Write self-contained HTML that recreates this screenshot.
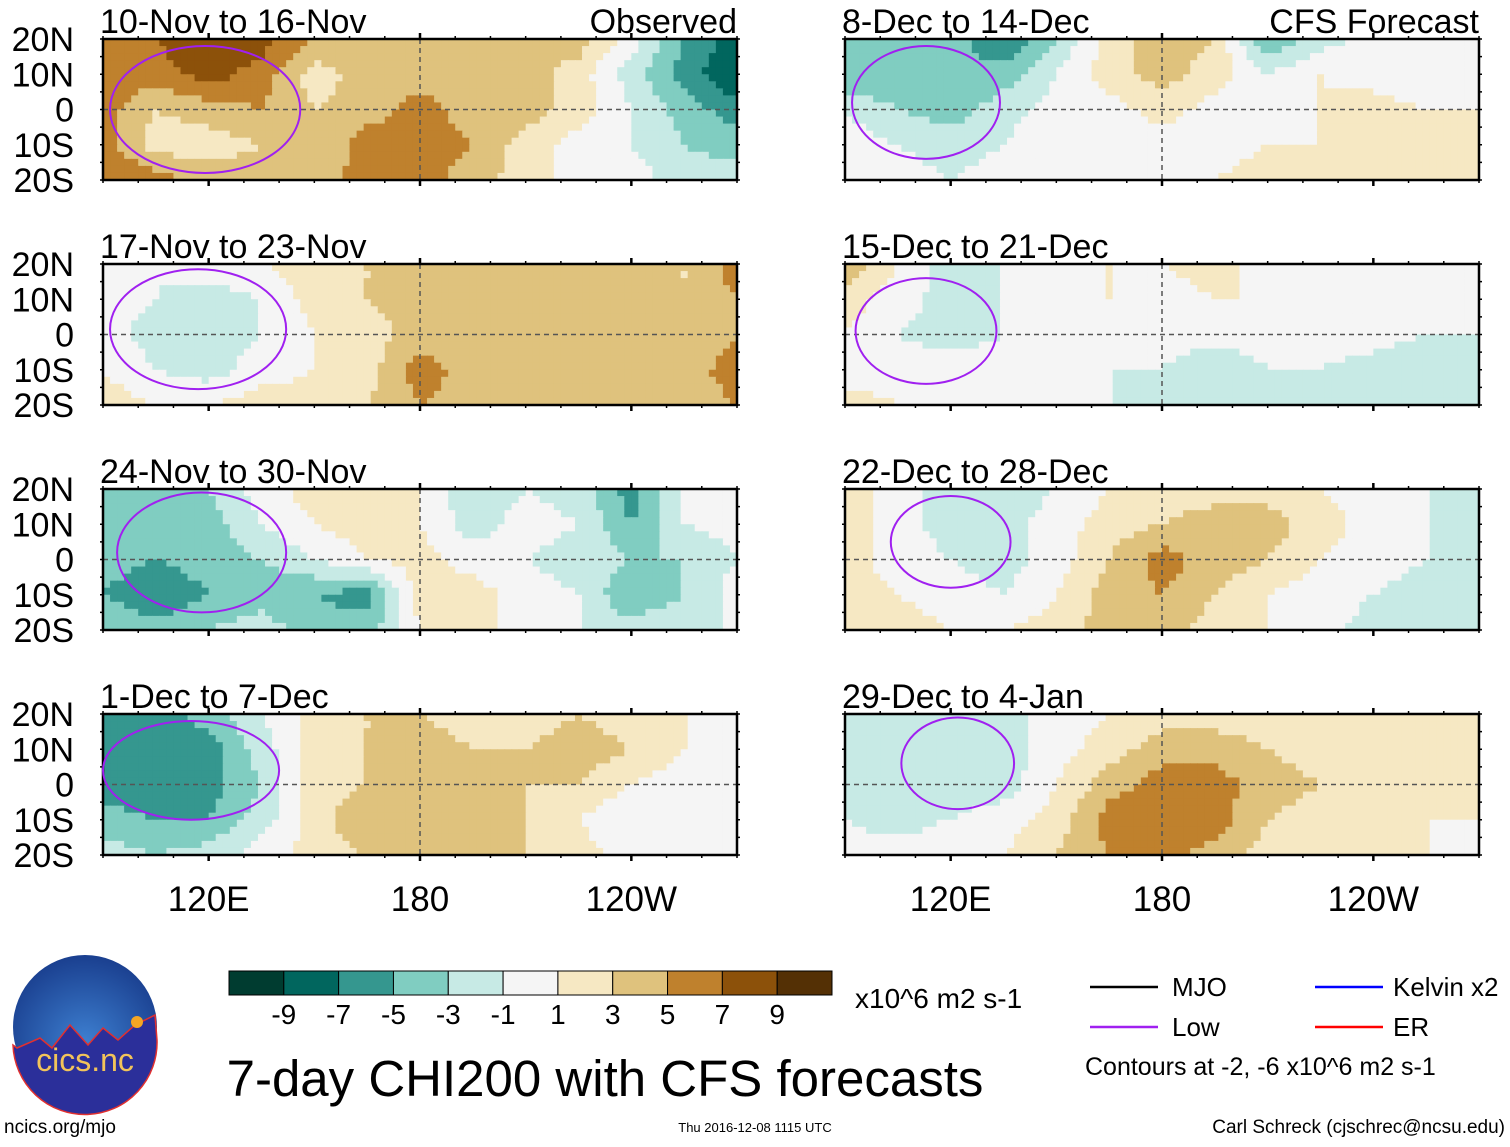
<!DOCTYPE html>
<html><head><meta charset="utf-8">
<style>
html,body{margin:0;padding:0;background:#fff;}
body{width:1510px;height:1142px;overflow:hidden;font-family:"Liberation Sans",sans-serif;}
svg text{font-family:"Liberation Sans",sans-serif;}
</style></head>
<body>
<svg id="chart" width="1510" height="1142" viewBox="0 0 1510 1142" xmlns="http://www.w3.org/2000/svg">
<g id="panels"></g>
<g id="legend">
  <g id="colorbar"></g>
  <text x="855" y="1008" font-size="28">x10^6 m2 s-1</text>
  <line x1="1090" y1="987" x2="1158" y2="987" stroke="#000" stroke-width="2.5"/>
  <text x="1172" y="996" font-size="26">MJO</text>
  <line x1="1090" y1="1027" x2="1158" y2="1027" stroke="#a020f0" stroke-width="2.5"/>
  <text x="1172" y="1036" font-size="26">Low</text>
  <line x1="1315" y1="987" x2="1383" y2="987" stroke="#0000ff" stroke-width="2.5"/>
  <text x="1393" y="996" font-size="26">Kelvin x2</text>
  <line x1="1315" y1="1027" x2="1383" y2="1027" stroke="#ff0000" stroke-width="2.5"/>
  <text x="1393" y="1036" font-size="26">ER</text>
  <text x="1085" y="1075" font-size="25">Contours at -2, -6 x10^6 m2 s-1</text>
</g>
<text x="605" y="1096" font-size="51" text-anchor="middle">7-day CHI200 with CFS forecasts</text>
<g>
  <defs><radialGradient id="lg" cx="0.5" cy="0.6" r="0.6"><stop offset="0" stop-color="#3d7fd0"/><stop offset="1" stop-color="#1a3f8f"/></radialGradient></defs>
  <circle cx="85" cy="1027" r="72" fill="url(#lg)"/>
  <path d="M17,1048 L40,1038 L52,1048 L70,1025 L88,1045 L103,1028 L118,1040 L135,1025 L155,1015 L157,1040 A72,72 0 0 1 13,1045 Z" fill="#2b2f9a" stroke="#e03030" stroke-width="1.5"/>
  <circle cx="137" cy="1022" r="6" fill="#f5a623"/>
  <text x="85" y="1071" font-size="32" fill="#f2c45a" text-anchor="middle">cics.nc</text>
</g>
<text x="4" y="1133" font-size="19">ncics.org/mjo</text>
<text x="755" y="1132" font-size="13" text-anchor="middle">Thu 2016-12-08 1115 UTC</text>
<text x="1505" y="1133" font-size="19" text-anchor="end">Carl Schreck (cjschrec@ncsu.edu)</text>
</svg>
<script>
// longitudes 90E..270E step 15, latitudes rows 20N,10N,0,10S,20S
const lons = [90,105,120,135,150,165,180,195,210,225,240,255,270];
const lats = [20,10,0,-10,-20];
const levels = [-9,-7,-5,-3,-1,1,3,5,7,9];
const levelColors = ["#003c30","#01665e","#35978f","#80cdc1","#c7eae5","#f5f5f5","#f6e8c3","#dfc27d","#bf812d","#8c510a","#543005"];
const panelTitles = ["10-Nov to 16-Nov","8-Dec to 14-Dec","17-Nov to 23-Nov","15-Dec to 21-Dec","24-Nov to 30-Nov","22-Dec to 28-Dec","1-Dec to 7-Dec","29-Dec to 4-Jan"];
const latTicks = ["20N","10N","0","10S","20S"];
const lonTickLabels = ["120E","180","120W"];
const lonTickValues = [120,180,240];

const p1 = [[6,7,9,8,5,3,4,4,4,4,0,-5,-8],[6,6,8,6,2,4,4,4,4,2,-2,-6,-9],[6,3,4,5,3,4,6,4,4,2,-1,-4,-6],[6,2,2,3,3,6,6,5,2,0,-1,-3,-4],[7,6,4,4,4,6,6,4,2,0,0,-2,-2]];
const p2 = [[-4,-5,-4,-7,-3,2,4,3,-5,-2,0,0,-1],[-5,-5,-5,-4,-1,2,4,2,-1,1,0,-1,-1],[-1,-3,-4,-2,0,0,2,0,0,1,2,1,1],[0,-1,-2,-1,1,0,0,0,1,1,2,1,2],[1,0,-1,0,1,0,1,1,2,2,2,2,3]];
const p3 = [[1,-1,0,1,2,3,3,4,4,4,4,3,6],[0,-1,-2,-1,2,3,4,4,5,4,3,3,5],[0,-2,-2,-1,1,2,4,4,3,4,3,3,5],[1,-1,-2,0,1,2,6,4,3,4,3,4,6],[2,1,1,2,2,3,5,4,4,4,4,4,5]];
const p4 = [[5,1,-2,-1,0,1,1,2,0,0,1,0,0],[2,0,-2,-1,0,1,0,1,1,0,0,0,0],[1,-1,-2,-1,0,0,0,0,0,0,0,-1,-1],[0,0,0,0,0,-1,-1,-3,-1,-1,-2,-3,-3],[2,1,1,1,0,-1,-2,-2,-1,-2,-3,-3,-3]];
const p5 = [[-3,-3,-3,0,2,3,1,-3,-1,-2,-6,-1,0],[-4,-5,-4,-1,1,2,1,-2,0,-1,-5,-1,0],[-4,-5,-4,-3,-1,1,2,0,-1,-2,-3,-3,-1],[-5,-7,-5,-4,-5,-6,2,2,0,-1,-5,-3,0],[-3,-4,-3,-2,-4,-4,1,2,0,-1,-2,-1,-1]];
const p6 = [[2,0,-2,-2,-1,1,2,2,2,1,0,-1,-1],[2,0,-2,-2,0,2,3,4,4,2,0,-1,-2],[2,0,-1,-2,0,3,6,4,3,1,0,-1,-2],[2,1,0,-1,1,4,5,3,1,0,-1,-2,-2],[2,2,1,1,2,4,4,2,1,0,-2,-2,-2]];
const p7 = [[-6,-6,-4,-1,2,3,3,2,2,3,2,1,0],[-7,-7,-6,-2,2,3,4,3,3,4,3,1,0],[-6,-7,-6,-3,2,3,4,4,3,3,1,0,0],[-4,-5,-5,-2,2,5,5,4,3,1,-1,0,0],[-2,-3,-2,0,2,3,4,4,3,2,0,0,1]];
const p8 = [[-1,-2,-2,-2,0,1,2,2,2,1,1,1,1],[-2,-2,-2,-2,0,2,4,4,3,2,2,1,1],[-1,-2,-2,-2,1,4,6,6,4,3,2,2,1],[-1,-2,-1,0,2,6,7,6,3,2,2,1,1],[0,0,1,1,3,5,6,4,2,2,1,1,0]];
const panelData = [p1,p2,p3,p4,p5,p6,p7,p8];

// Low contour loops: panel, centre lon, centre lat, half-width (deg lon), half-height (deg lat)
const lowPanel = [0,1,2,3,4,5,6,7];
const lowLon = [119,113,117,113,118,120,115,122];
const lowLat = [0,2,1.5,1,2,5,4,6];
const lowRx = [27,21,25,20,24,17,25,16];
const lowRy = [18,16,17,15,17,13,14,13];

const NS="http://www.w3.org/2000/svg";
function mk(tag, attrs, parent){const e=document.createElementNS(NS,tag);for(const k in attrs)e.setAttribute(k,attrs[k]);parent.appendChild(e);return e;}
function colorFor(v){let i=0;while(i<levels.length&&v>=levels[i])i++;return levelColors[i];}
function interp(d,lon,lat){
  const fx=(lon-lons[0])/15, fy=(lats[0]-lat)/10;
  const x0=Math.min(Math.floor(fx),lons.length-2), y0=Math.min(Math.floor(fy),lats.length-2);
  const tx=fx-x0, ty=fy-y0;
  const a=d[y0][x0],b=d[y0][x0+1],c=d[y0+1][x0],e=d[y0+1][x0+1];
  return (a*(1-tx)+b*tx)*(1-ty)+(c*(1-tx)+e*tx)*ty;
}
const W=634,H=141;
const panelsG=document.getElementById('panels');
const panelX=[103,845], panelY=[39,264,489,714];
const xsP=(pi,lon)=>panelX[pi%2]+(lon-90)/180*W;
const ysP=(pi,lat)=>panelY[Math.floor(pi/2)]+(20-lat)/40*H;
panelData.forEach((d,pi)=>{
  const X0=panelX[pi%2], Y0=panelY[Math.floor(pi/2)];
  const xs=lon=>xsP(pi,lon);
  const ys=lat=>ysP(pi,lat);
  const g=mk('g',{},panelsG);
  
  
  const step=2;
  for(let lat=20;lat>-20;lat-=step){
    for(let lon=90;lon<270;lon+=step){
      const v=interp(d,lon+step/2,lat-step/2);
      const r=mk('rect',{x:xs(lon).toFixed(2),y:ys(lat).toFixed(2),width:(W*step/180+0.6).toFixed(2),height:(H*step/40+0.6).toFixed(2),fill:colorFor(v)},g);
      
      
    }
  }
  mk('line',{x1:X0,y1:ys(0),x2:X0+W,y2:ys(0),stroke:'#555','stroke-width':1.5,'stroke-dasharray':'5,4'},g);
  mk('line',{x1:xs(180),y1:Y0,x2:xs(180),y2:Y0+H,stroke:'#555','stroke-width':1.5,'stroke-dasharray':'5,4'},g);
  const f=mk('rect',{x:X0,y:Y0,width:W,height:H,fill:'none',stroke:'#000','stroke-width':2.5},g);
  
  
  for(let lon=90;lon<=270;lon+=10){
    const major=lonTickValues.includes(lon);
    mk('line',{x1:xs(lon),y1:Y0,x2:xs(lon),y2:Y0-(major?6:3),stroke:'#000','stroke-width':major?2.5:1.5},g);
    mk('line',{x1:xs(lon),y1:Y0+H,x2:xs(lon),y2:Y0+H+(major?6:3),stroke:'#000','stroke-width':major?2.5:1.5},g);
  }
  for(let lat=-20;lat<=20;lat+=5){
    mk('line',{x1:X0,y1:ys(lat),x2:X0-3,y2:ys(lat),stroke:'#000','stroke-width':1.5},g);
    mk('line',{x1:X0+W,y1:ys(lat),x2:X0+W+3,y2:ys(lat),stroke:'#000','stroke-width':1.5},g);
  }
  const t=mk('text',{x:X0-3,y:Y0-6,'font-size':34},g);
  t.textContent=panelTitles[pi];
  
  
  if(pi%2===0){
    latTicks.forEach((lab,i)=>{
      const tt=mk('text',{x:74,y:ys(lats[i])+12,'font-size':34,'text-anchor':'end'},g);
      tt.textContent=lab;
      
      
    });
  }
  if(pi===0){const o=mk('text',{x:X0+W,y:Y0-6,'font-size':34,'text-anchor':'end'},g);o.textContent='Observed';
    
    }
  if(pi===1){const o=mk('text',{x:X0+W,y:Y0-6,'font-size':34,'text-anchor':'end'},g);o.textContent='CFS Forecast';
    
    }
  if(pi>=6){
    lonTickLabels.forEach((lab,i)=>{
      const tt=mk('text',{x:xs(lonTickValues[i]),y:911,'font-size':35,'text-anchor':'middle'},g);
      tt.textContent=lab;
      
      
    });
  }
});
lowPanel.forEach((pi,i)=>{
  const cx=xsP(pi,lowLon[i]), cy=ysP(pi,lowLat[i]);
  const rx=lowRx[i]/180*W, ry=lowRy[i]/40*H;
  const e=mk('ellipse',{cx:cx,cy:cy,rx:rx,ry:ry,fill:'none',stroke:'#a020f0','stroke-width':2},panelsG);
  
  
});
// colorbar
const cb=document.getElementById('colorbar');
const cbX=229,cbW=603/levelColors.length;
levelColors.forEach((c,i)=>{
  const r=mk('rect',{x:cbX+i*cbW,y:971,width:cbW,height:24,fill:c,stroke:'#000','stroke-width':1},cb);
  
  
});
levels.forEach((v,i)=>{
  const t=mk('text',{x:cbX+(i+1)*cbW,y:1024,'font-size':28,'text-anchor':'middle'},cb);
  t.textContent=v;
  
  
});
</script>
</body></html>
